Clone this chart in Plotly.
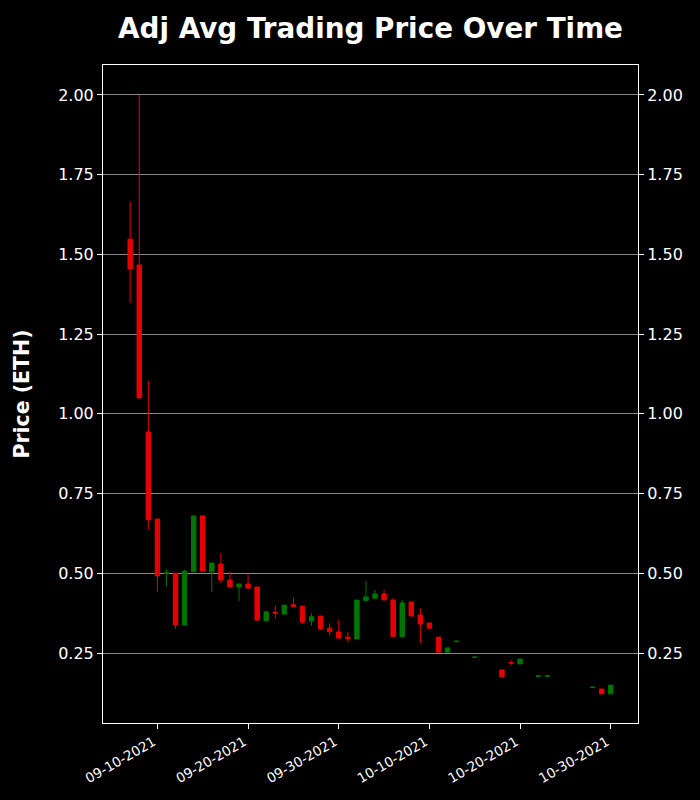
import plotly.graph_objects as go

dates = ["2021-09-07", "2021-09-08", "2021-09-09", "2021-09-10", "2021-09-11", "2021-09-12",
         "2021-09-13", "2021-09-14", "2021-09-15", "2021-09-16", "2021-09-17", "2021-09-18",
         "2021-09-19", "2021-09-20", "2021-09-21", "2021-09-22", "2021-09-23", "2021-09-24",
         "2021-09-25", "2021-09-26", "2021-09-27", "2021-09-28", "2021-09-29", "2021-09-30",
         "2021-10-01", "2021-10-02", "2021-10-03", "2021-10-04", "2021-10-05", "2021-10-06",
         "2021-10-07", "2021-10-08", "2021-10-09", "2021-10-10", "2021-10-11", "2021-10-12",
         "2021-10-13", "2021-10-15", "2021-10-18", "2021-10-19", "2021-10-20", "2021-10-22",
         "2021-10-23", "2021-10-28", "2021-10-29", "2021-10-30"]

open_ = [1.548, 1.467, 0.943, 0.670, 0.499, 0.500, 0.338, 0.505, 0.680, 0.505, 0.529, 0.479,
         0.457, 0.466, 0.457, 0.351, 0.378, 0.372, 0.401, 0.397, 0.350, 0.366, 0.328, 0.316,
         0.300, 0.294, 0.414, 0.422, 0.435, 0.416, 0.301, 0.410, 0.369, 0.344, 0.300, 0.253,
         0.286, 0.236, 0.197, 0.220, 0.216, 0.177, 0.177, 0.142, 0.137, 0.122]
high = [1.665, 2.000, 1.103, 0.672, 0.513, 0.501, 0.510, 0.680, 0.680, 0.532, 0.564, 0.504,
        0.469, 0.496, 0.457, 0.379, 0.398, 0.400, 0.423, 0.397, 0.375, 0.366, 0.343, 0.353,
        0.316, 0.416, 0.476, 0.448, 0.448, 0.422, 0.416, 0.410, 0.391, 0.344, 0.300, 0.266,
        0.287, 0.238, 0.197, 0.228, 0.231, 0.178, 0.178, 0.143, 0.137, 0.149]
low = [1.348, 1.050, 0.637, 0.442, 0.458, 0.326, 0.336, 0.505, 0.507, 0.442, 0.470, 0.457,
       0.413, 0.451, 0.353, 0.348, 0.358, 0.372, 0.394, 0.341, 0.335, 0.325, 0.303, 0.297,
       0.284, 0.294, 0.414, 0.420, 0.413, 0.301, 0.297, 0.366, 0.281, 0.328, 0.253, 0.250,
       0.286, 0.236, 0.175, 0.211, 0.214, 0.177, 0.177, 0.142, 0.122, 0.122]
close = [1.454, 1.050, 0.668, 0.492, 0.501, 0.338, 0.507, 0.680, 0.507, 0.532, 0.479, 0.457,
         0.466, 0.454, 0.353, 0.379, 0.375, 0.400, 0.395, 0.347, 0.364, 0.325, 0.317, 0.297,
         0.295, 0.416, 0.426, 0.435, 0.417, 0.301, 0.407, 0.366, 0.341, 0.328, 0.253, 0.266,
         0.287, 0.237, 0.175, 0.219, 0.231, 0.178, 0.178, 0.143, 0.122, 0.149]

y_ticks = [0.25, 0.50, 0.75, 1.00, 1.25, 1.50, 1.75, 2.00]
x_ticks = ["2021-09-10", "2021-09-20", "2021-09-30", "2021-10-10", "2021-10-20", "2021-10-30"]

RED = "#e60000"
GREEN = "#007400"
FONT = "DejaVu Sans"

W, H = 700, 800

fig = go.Figure()
fig.add_trace(go.Candlestick(
    x=dates, open=open_, high=high, low=low, close=close,
    increasing=dict(line=dict(color=GREEN, width=1), fillcolor=GREEN),
    decreasing=dict(line=dict(color=RED, width=1), fillcolor=RED),
    whiskerwidth=0, showlegend=False,
))
fig.add_trace(go.Scatter(x=[dates[0]], y=[close[0]], yaxis="y2", mode="markers",
                         marker=dict(opacity=0), hoverinfo="skip", showlegend=False))

yrange = [0.0305, 2.094]
common_y = dict(
    range=yrange, tickvals=y_ticks, tickformat=".2f", ticks="outside", ticklen=5,
    tickcolor="white", tickfont=dict(family=FONT, size=16, color="white"),
    zeroline=False,
)
fig.update_layout(
    width=W, height=H,
    paper_bgcolor="black", plot_bgcolor="black",
    margin=dict(l=103, r=62, t=65, b=77),
    title=dict(text="<b>Adj Avg Trading Price Over Time</b>", x=370.5 / W, xanchor="center",
               y=1 - 28 / H, yanchor="middle", yref="container",
               font=dict(family=FONT, size=27.8, color="white")),
    xaxis=dict(
        type="date", range=["2021-09-04 00:00", "2021-11-02 00:00"],
        tickvals=x_ticks, tickformat="%m-%d-%Y", tickangle=-30,
        ticks="outside", ticklen=5, tickcolor="white",
        tickfont=dict(family=FONT, size=13.5, color="white"),
        ticklabelshift=-4,
        showgrid=False, showline=True, linecolor="white", linewidth=1, mirror=True,
        rangeslider=dict(visible=False),
    ),
    yaxis=dict(
        **common_y, showgrid=True, gridcolor="#8a8a8a", gridwidth=1,
        showline=True, linecolor="white", linewidth=1, mirror=True,
        title=dict(text="<b>Price (ETH)</b>", standoff=22,
                   font=dict(family=FONT, size=20.5, color="white")),
    ),
    yaxis2=dict(
        **common_y, overlaying="y", side="right", matches="y", showgrid=False,
        showline=False,
    ),
)

page_js = ("document.body.style.margin='0';document.body.style.padding='0';"
           "document.body.style.background='black';"
           "document.documentElement.style.background='black';"
           "document.documentElement.style.overflow='hidden';")

fig.write_html("out.html", post_script=page_js, config={"displayModeBar": False})
